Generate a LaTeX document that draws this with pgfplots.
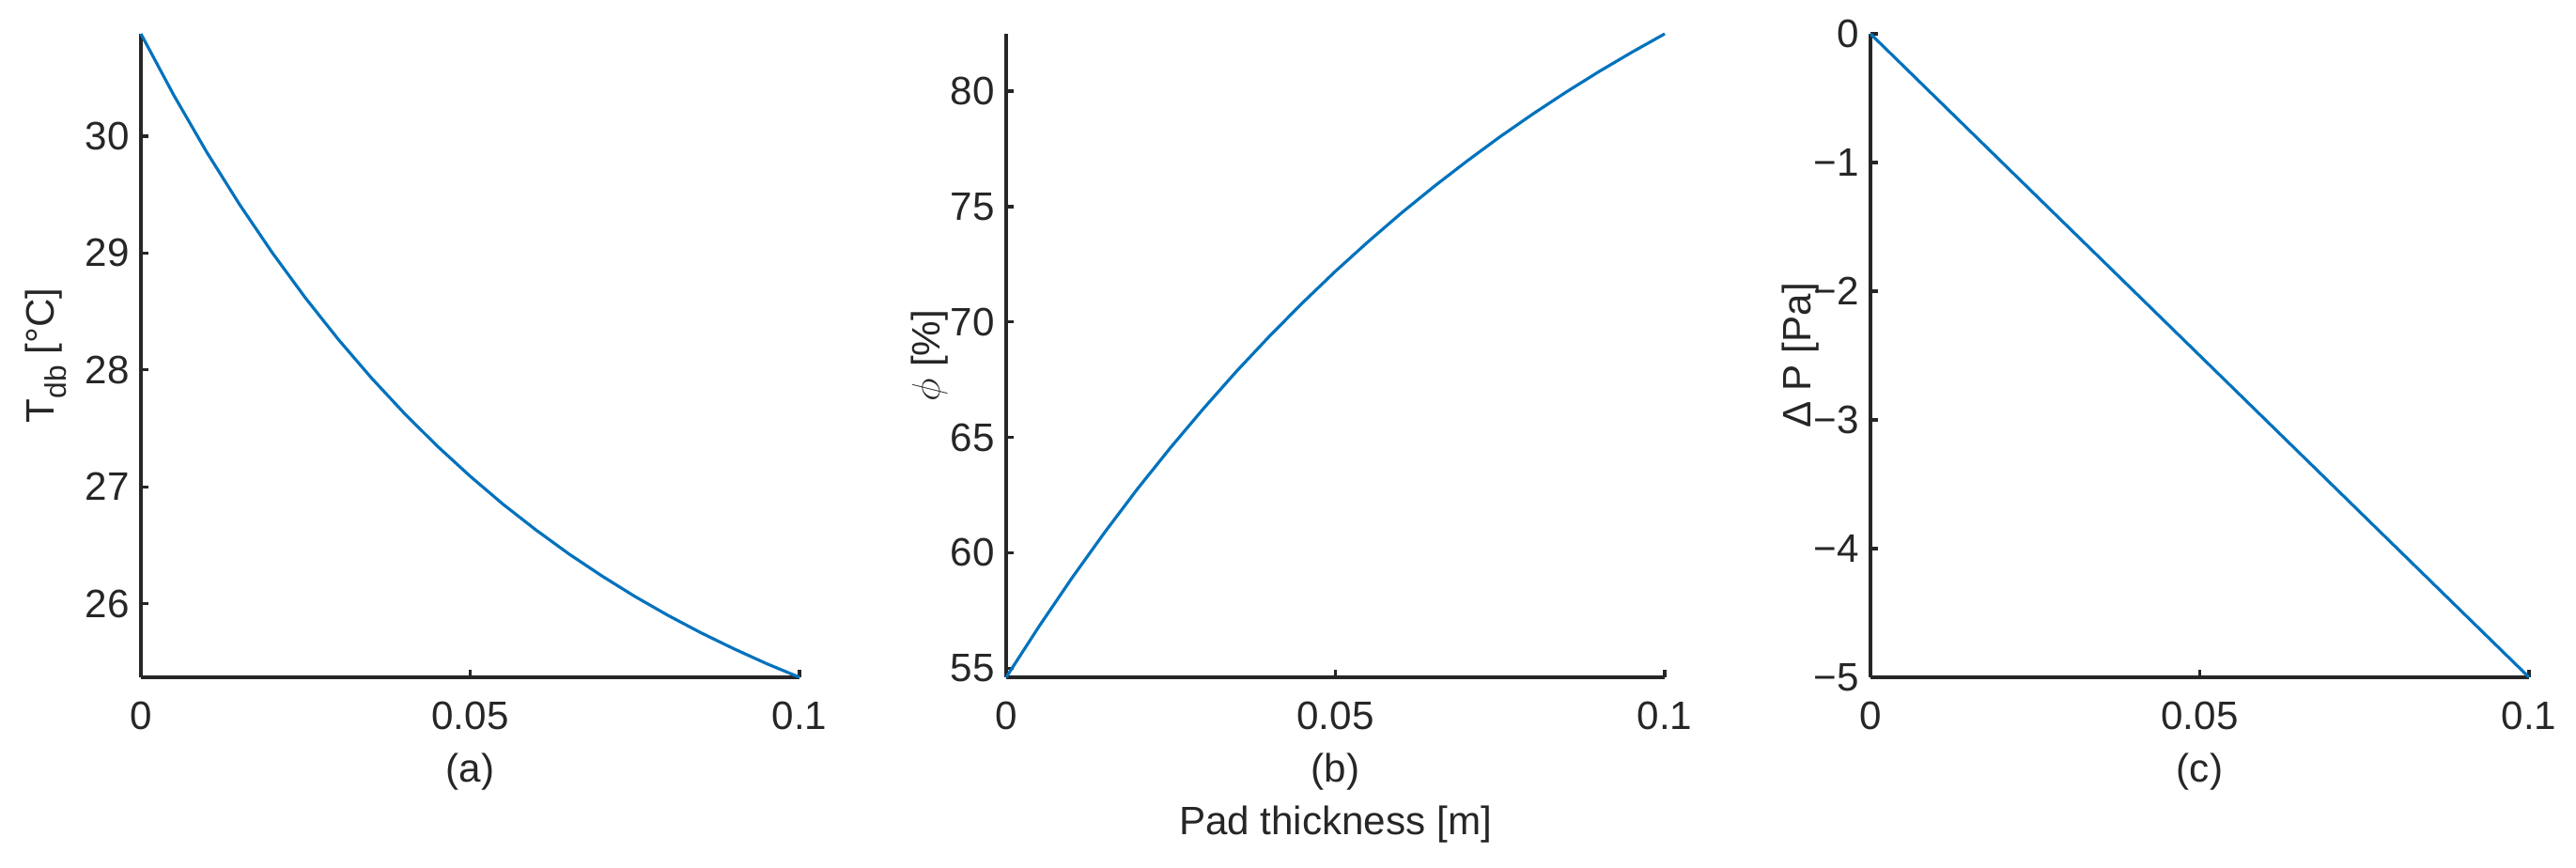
\documentclass[border=0pt]{standalone}
\usepackage{fontspec}
\setmainfont{Liberation Sans}
\usepackage{pgfplots}
\pgfplotsset{compat=1.18}
\definecolor{mblue}{RGB}{0,114,189}
\definecolor{mgray}{RGB}{38,38,38}

\pgfplotstableread{
x T
0.000 30.875
0.005 30.349
0.010 29.862
0.015 29.413
0.020 28.998
0.025 28.614
0.030 28.259
0.035 27.931
0.040 27.628
0.045 27.348
0.050 27.090
0.055 26.850
0.060 26.630
0.065 26.425
0.070 26.237
0.075 26.062
0.080 25.901
0.085 25.752
0.090 25.615
0.095 25.487
0.100 25.370
}\tdbtable

\pgfplotstableread{
x RH
0.000 54.60
0.005 56.81
0.010 58.91
0.015 60.90
0.020 62.79
0.025 64.57
0.030 66.26
0.035 67.87
0.040 69.39
0.045 70.83
0.050 72.20
0.055 73.49
0.060 74.72
0.065 75.88
0.070 76.98
0.075 78.03
0.080 79.02
0.085 79.96
0.090 80.85
0.095 81.69
0.100 82.49
}\rhtable

\pgfplotstableread{
x dP
0.000 0.00
0.025 -1.25
0.050 -2.50
0.075 -3.75
0.100 -5.00
}\dptable

\pgfplotsset{
  mstyle/.style={
    width=70.1mm, height=68.5mm, scale only axis,
    axis x line*=bottom, axis y line*=left,
    axis line style={mgray, line width=0.95pt, -},
    every outer x axis line/.append style={-},
    every outer y axis line/.append style={-},
    tick align=inside, major tick length=0.8mm,
    every tick/.style={mgray, line width=0.95pt},
    xmin=0, xmax=0.1, xtick={0,0.05,0.1}, xticklabels={0,0.05,0.1},
    scaled x ticks=false, scaled y ticks=false,
    tick label style={font=\fontsize{12}{14}\selectfont, text=mgray},
    label style={font=\fontsize{12}{14}\selectfont, text=mgray},
    xticklabel style={anchor=base, yshift=-5.5mm},
    xlabel style={at={(axis description cs:0.5,0)}, anchor=base, yshift=-11.1mm},
    clip=false,
  },
}

\begin{document}
\begin{tikzpicture}
\useasboundingbox (0,0) rectangle (274.2mm,92.3mm);

\begin{axis}[mstyle, name=a, at={(15mm,20.2mm)}, anchor=south west,
  ymin=25.37, ymax=30.875, ytick={26,27,28,29,30}, yticklabels={26,27,28,29,30},
  xlabel={(a)},
  ylabel={T\raisebox{-0.3em}{\fontsize{9}{10}\selectfont db} [°C]},
  ylabel style={at={(axis description cs:-0.132,0.5)}, anchor=base}]
\addplot[mblue, line width=0.9pt] table[x=x, y=T] {\tdbtable};
\end{axis}

\begin{axis}[mstyle, name=b, at={(107.1mm,20.2mm)}, anchor=south west,
  ymin=54.60, ymax=82.49, ytick={55,60,65,70,75,80}, yticklabels={55,60,65,70,75,80},
  xlabel={(b)},
  ylabel={$\phi$ [\%]},
  ylabel style={at={(axis description cs:-0.101,0.5)}, anchor=base}]
\addplot[mblue, line width=0.9pt] table[x=x, y=RH] {\rhtable};
\end{axis}
\node[font=\fontsize{12}{14}\selectfont, text=mgray, anchor=base] at ([yshift=-16.7mm]b.south) {Pad thickness [m]};

\begin{axis}[mstyle, name=c, at={(199.1mm,20.2mm)}, anchor=south west,
  ymin=-5, ymax=0, ytick={-5,-4,-3,-2,-1,0}, yticklabels={−5,−4,−3,−2,−1,0},
  xlabel={(c)},
  ylabel={Δ P [Pa]},
  ylabel style={at={(axis description cs:-0.0909,0.5)}, anchor=base}]
\addplot[mblue, line width=0.9pt] table[x=x, y=dP] {\dptable};
\end{axis}
\end{tikzpicture}
\end{document}
